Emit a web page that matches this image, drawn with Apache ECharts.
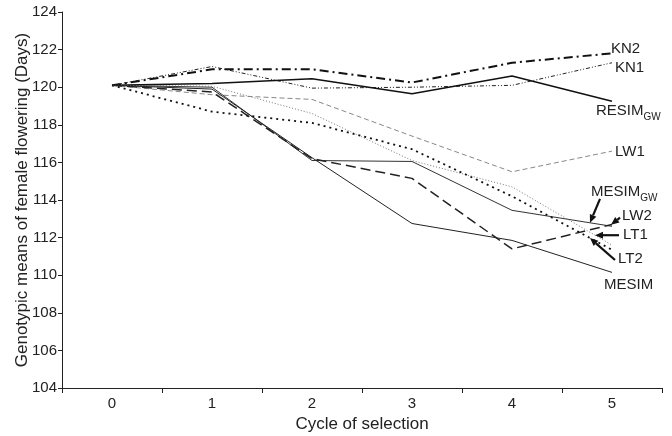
<!DOCTYPE html>
<html><head><meta charset="utf-8">
<script src="https://cdn.jsdelivr.net/npm/echarts@6/dist/echarts.min.js"></script>
<style>html,body{margin:0;padding:0;background:#fff}#c{width:672px;height:436px}</style>
</head><body><div id="c"></div>
<script>
// ---- data ----
const cycles = ['0', '1', '2', '3', '4', '5'];
const yTicks = [104, 106, 108, 110, 112, 114, 116, 118, 120, 122, 124];
const KN2 = [120.1, 120.95, 120.95, 120.25, 121.3, 121.8];
const KN1 = [120.1, 121.1, 119.95, 120.0, 120.1, 121.3];
const RESIM_GW = [120.1, 120.2, 120.45, 119.65, 120.6, 119.25];
const LW1 = [120.1, 119.6, 119.35, 117.4, 115.5, 116.6];
const MESIM_GW = [120.1, 120.0, 116.1, 116.05, 113.45, 112.6];
const LW2 = [120.1, 119.75, 116.2, 115.15, 111.4, 112.7];
const LT1 = [120.1, 120.05, 118.6, 116.1, 114.7, 111.6];
const LT2 = [120.1, 118.7, 118.1, 116.7, 114.2, 111.35];
const MESIM = [120.1, 119.9, 116.25, 112.75, 111.85, 110.15];

const FONT = 'Liberation Sans, Arial, Helvetica, sans-serif';

const seriesDefs = [
  {name: 'KN2', data: KN2, color: '#111', width: 2, type: [9, 4, 2, 4]},
  {name: 'KN1', data: KN1, color: '#222', width: 1, type: [4, 2, 1, 2, 1, 2]},
  {name: 'RESIM_GW', data: RESIM_GW, color: '#111', width: 1.6, type: 'solid'},
  {name: 'LW1', data: LW1, color: '#888', width: 1, type: [5, 3]},
  {name: 'MESIM_GW', data: MESIM_GW, color: '#333', width: 1, type: 'solid'},
  {name: 'LW2', data: LW2, color: '#222', width: 1.5, type: [10, 5]},
  {name: 'LT1', data: LT1, color: '#777', width: 1, type: [1, 2]},
  {name: 'LT2', data: LT2, color: '#111', width: 1.8, type: [2, 4]},
  {name: 'MESIM', data: MESIM, color: '#222', width: 1, type: 'solid'}
];

const chart = echarts.init(document.getElementById('c'), null, {renderer: 'canvas'});
chart.setOption({
  animation: false,
  backgroundColor: '#fff',
  textStyle: {fontFamily: FONT},
  grid: {left: 62, right: 10, top: 12, bottom: 48, containLabel: false, outerBoundsMode: 'none'},
  xAxis: {
    type: 'category', data: cycles, boundaryGap: true,
    name: 'Cycle of selection', nameLocation: 'middle', nameGap: 28, nameMoveOverlap: false,
    nameTextStyle: {fontSize: 17, color: '#222', fontFamily: FONT},
    axisLine: {lineStyle: {color: '#222', width: 1}},
    axisTick: {show: true, length: 5, interval: 0, lineStyle: {color: '#222'}},
    axisLabel: {fontSize: 15, color: '#222', margin: 8, fontFamily: FONT},
    splitLine: {show: false}
  },
  yAxis: {
    type: 'value', min: yTicks[0], max: yTicks[yTicks.length - 1], interval: 2,
    name: 'Genotypic means of female flowering (Days)', nameLocation: 'middle', nameGap: 31, nameMoveOverlap: false,
    nameTextStyle: {fontSize: 17, color: '#222', fontFamily: FONT},
    axisLine: {show: true, lineStyle: {color: '#222', width: 1}},
    axisTick: {show: true, length: 4, inside: false, lineStyle: {color: '#222'}},
    axisLabel: {fontSize: 15, color: '#222', margin: 5, fontFamily: FONT},
    splitLine: {show: false}
  },
  series: seriesDefs.map(d => ({
    name: d.name, type: 'line', data: d.data, symbol: 'none', smooth: false,
    lineStyle: {color: d.color, width: d.width, type: d.type},
    z: 2
  }))
});

// ---- annotations anchored to the data ----
function px(name, idx) {
  const d = seriesDefs.find(s => s.name === name);
  return chart.convertToPixel({xAxisIndex: 0, yAxisIndex: 0}, [idx, d.data[idx]]);
}
function along(name, t) { // point between cycle 4 and 5
  const a = px(name, 4), b = px(name, 5);
  return [a[0] + (b[0] - a[0]) * t, a[1] + (b[1] - a[1]) * t];
}
const richStyle = {
  m: {fontSize: 15, lineHeight: 22, fontFamily: FONT, fill: '#222'},
  s: {fontSize: 10, lineHeight: 12, verticalAlign: 'bottom', fontFamily: FONT, fill: '#222'}
};
const graphics = [];
function label(text, x, y, sub) {
  graphics.push({
    type: 'text', x: x, y: y, z: 10,
    style: sub ? {
      text: '{m|' + text + '}{s|' + sub + '}', rich: richStyle,
      align: 'left', verticalAlign: 'middle', fill: '#222'
    } : {
      text: text, fontSize: 15, fontFamily: FONT, fill: '#222',
      align: 'left', verticalAlign: 'middle'
    }
  });
}
function arrow(tail, tip) {
  const dx = tip[0] - tail[0], dy = tip[1] - tail[1];
  const L = Math.sqrt(dx * dx + dy * dy), ux = dx / L, uy = dy / L;
  const hl = 8, hw = 3.5;
  const bx = tip[0] - ux * hl, by = tip[1] - uy * hl;
  graphics.push({type: 'line', z: 10, shape: {x1: tail[0], y1: tail[1], x2: bx, y2: by},
    style: {stroke: '#111', lineWidth: 2.2}});
  graphics.push({type: 'polygon', z: 10, shape: {points: [
    [tip[0], tip[1]], [bx - uy * hw, by + ux * hw], [bx + uy * hw, by - ux * hw]]},
    style: {fill: '#111'}});
}
let p;
p = px('KN2', 5); label('KN2', p[0] - 1, p[1] - 5);
p = px('KN1', 5); label('KN1', p[0] + 3, p[1] + 5);
p = px('RESIM_GW', 5); label('RESIM', p[0] - 16, p[1] + 10, 'GW');
p = px('LW1', 5); label('LW1', p[0] + 3, p[1] + 1);
p = px('MESIM', 5); label('MESIM', p[0] - 8, p[1] + 12);

let tip;
tip = along('MESIM_GW', 0.78); arrow([tip[0] + 10, tip[1] - 24], tip); label('MESIM', tip[0] + 1, tip[1] - 31, 'GW');
tip = along('LW2', 0.99); arrow([tip[0] + 9, tip[1] - 7], tip); label('LW2', tip[0] + 11, tip[1] - 9);
tip = along('LT1', 0.83); arrow([tip[0] + 24, tip[1]], tip); label('LT1', tip[0] + 28, tip[1]);
tip = along('LT2', 0.78); arrow([tip[0] + 25, tip[1] + 22], tip); label('LT2', tip[0] + 28, tip[1] + 21);

chart.setOption({graphic: graphics});
</script>
</body></html>
